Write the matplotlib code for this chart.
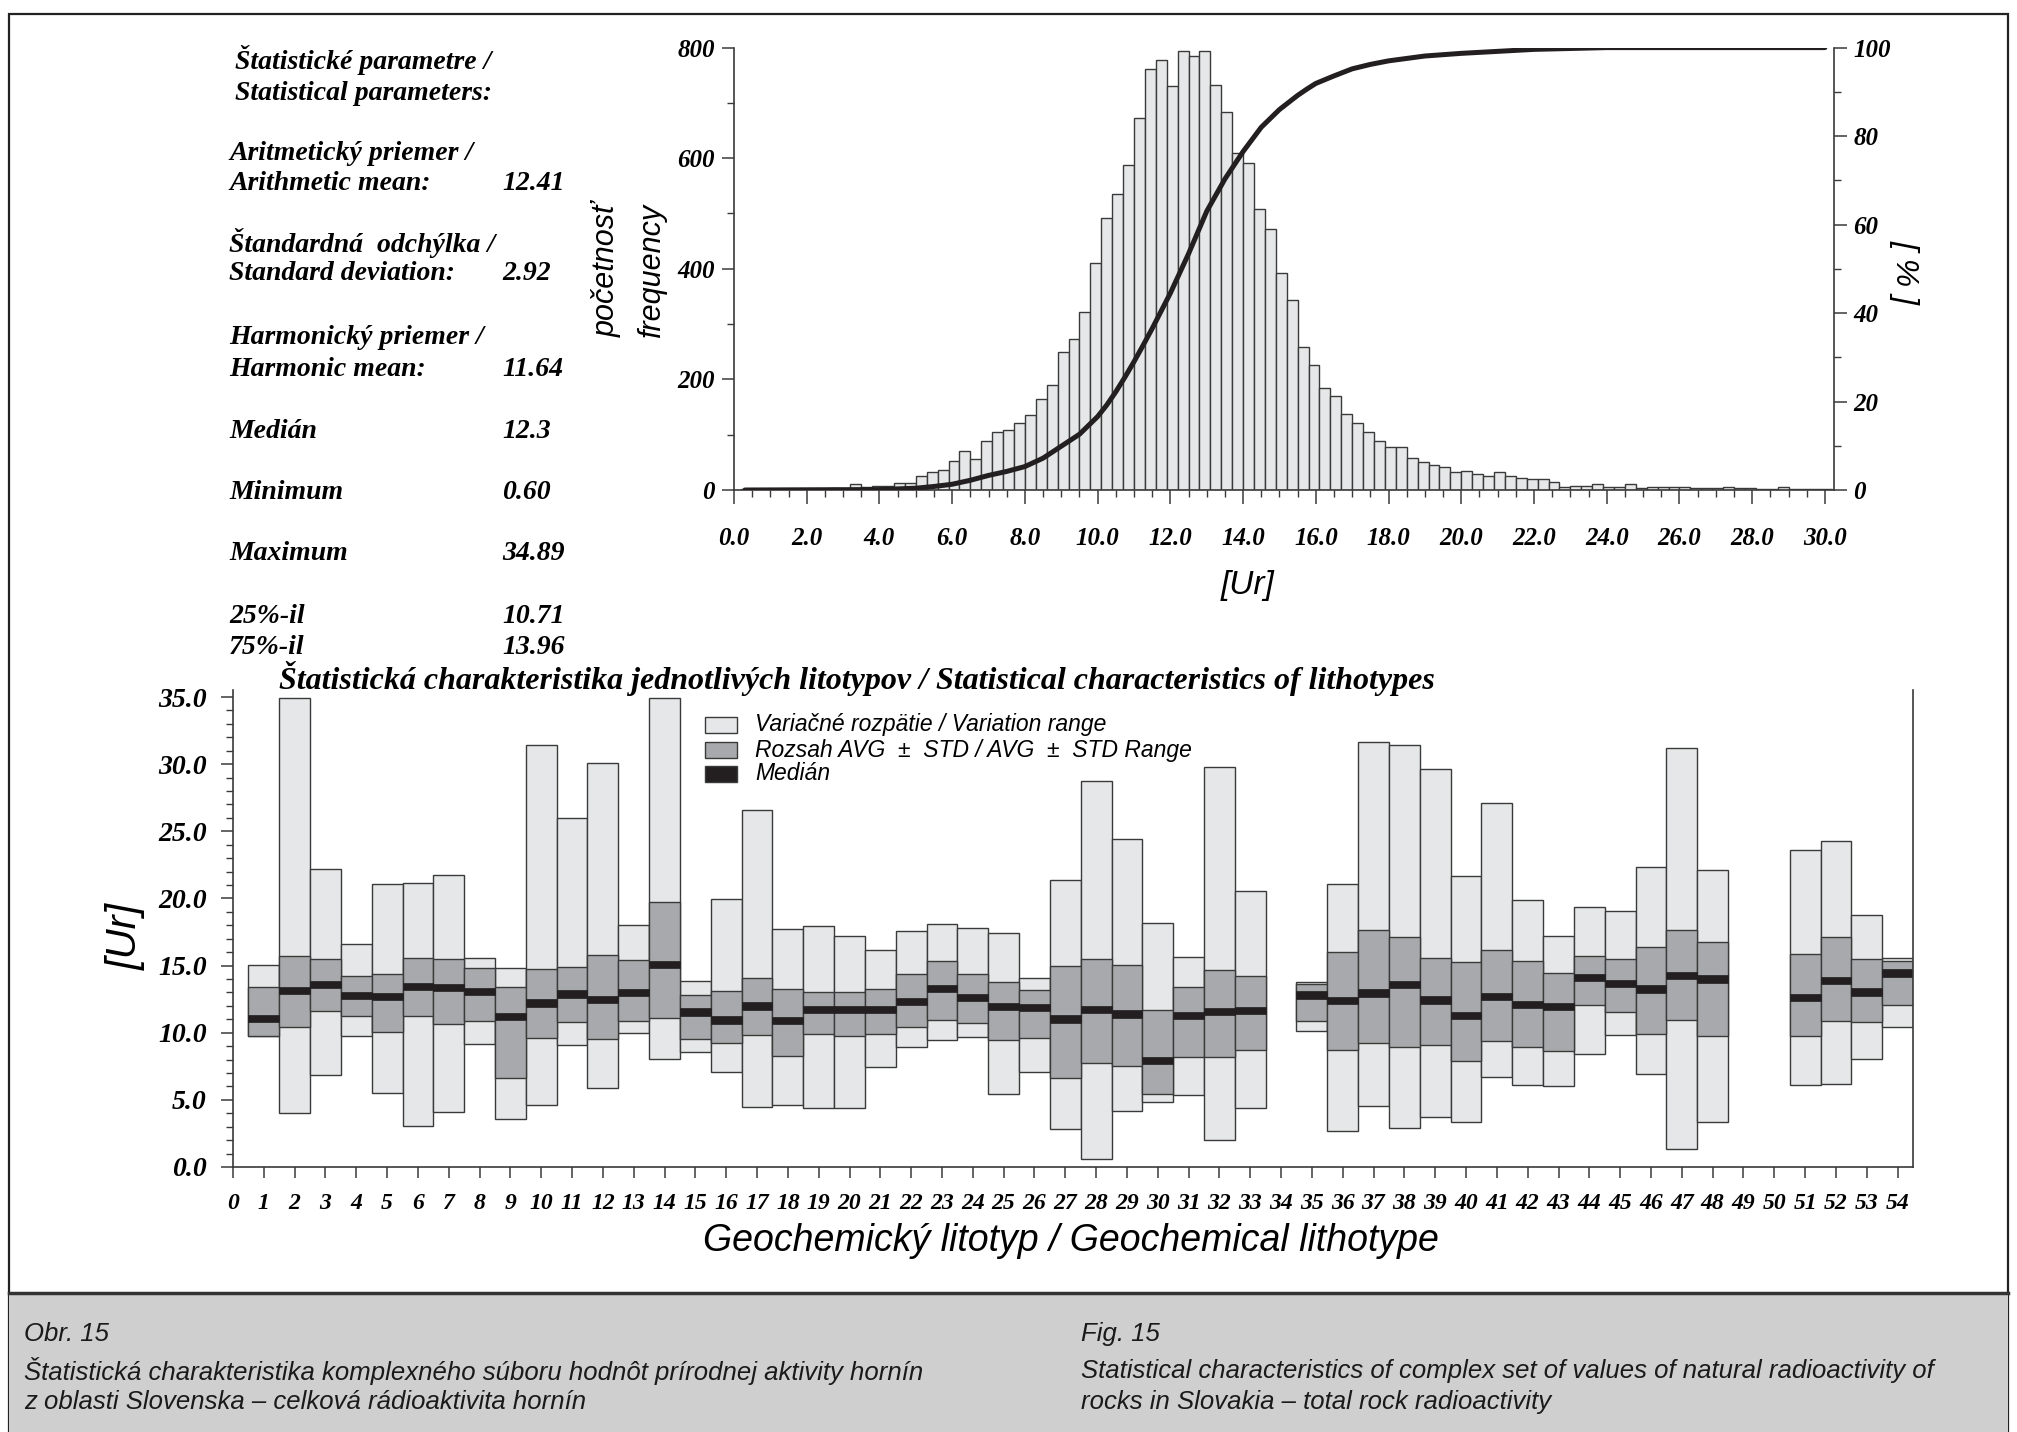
import numpy as np
import matplotlib
matplotlib.use("Agg")
import matplotlib.pyplot as plt
from matplotlib.patches import Rectangle
from matplotlib.font_manager import FontProperties
from matplotlib.ticker import MultipleLocator

# ---- histogram of all values (bins 0.3 wide, first edge 0.2) ----
bin_start = 0.2
bin_width = 0.3
counts = [1, 0, 1, 1, 0, 1, 2, 1,
          3, 2, 10, 5, 8, 8, 13, 13,
          26, 33, 37, 52, 71, 56, 88,
          104, 109, 122, 136, 165, 189, 249, 273, 322, 410, 491, 536, 587, 672,
          761, 778, 730, 793, 785, 793, 732, 684, 609, 591, 508, 472, 393, 344,
          258, 226, 185, 170, 137, 122, 104, 88, 77, 78, 57,
          50, 46, 42, 32, 35, 29, 26, 32, 25, 21, 19, 19, 14, 5, 8, 7, 10, 5,
          5, 10, 4, 5, 6, 5, 6, 3, 3, 3, 5, 4, 4, 1, 1, 5, 1, 1, 2, 2]

# cumulative curve [%]
cum_x = [0.3, 4.0, 5.0, 5.5, 6.0, 6.5, 7.0, 7.5, 8.0, 8.5, 9.0, 9.5, 10.0, 10.25,
         10.5, 10.75, 11.0, 11.25, 11.5, 12.0, 12.5, 13.0, 13.5, 14.0, 14.5, 15.0,
         15.5, 15.75, 16.0, 16.5, 17.0, 17.5, 18.0, 19.0, 20.0, 22.0, 24.0, 30.0]
cum_pct = [0.0, 0.1, 0.4, 0.8, 1.3, 2.2, 3.3, 4.2, 5.3, 7.2, 9.9, 12.6, 16.6, 19.2,
           22.2, 25.5, 29.0, 32.7, 36.5, 44.5, 53.4, 63.0, 70.3, 76.5, 82.0, 86.0,
           89.2, 90.6, 91.9, 93.6, 95.2, 96.2, 97.0, 98.1, 98.7, 99.6, 100.0, 100.0]

hist_xticks = [0.0, 2.0, 4.0, 6.0, 8.0, 10.0, 12.0, 14.0, 16.0, 18.0, 20.0,
               22.0, 24.0, 26.0, 28.0, 30.0]
hist_yticks = [0, 200, 400, 600, 800]
pct_ticks = [0, 20, 40, 60, 80, 100]

stats_rows = [
    ("Aritmetický priemer /", "Arithmetic mean:", "12.41"),
    ("Štandardná  odchýlka /", "Standard deviation:", "2.92"),
    ("Harmonický priemer /", "Harmonic mean:", "11.64"),
    ("Medián", None, "12.3"),
    ("Minimum", None, "0.60"),
    ("Maximum", None, "34.89"),
]
quantiles = [("25%-il", "10.71"), ("75%-il", "13.96")]

# ---- statistics per lithotype ----
lito = list(range(1, 34)) + list(range(35, 49)) + list(range(51, 55))
v_max = [15.06, 34.89, 22.16, 16.64, 21.05, 21.18, 21.71, 15.56, 14.84, 31.43,
         26.02, 30.08, 18.01, 34.89, 13.84, 19.99, 26.55, 17.72, 17.93, 17.17,
         16.16, 17.54, 18.09, 17.80, 17.41, 14.05, 21.39, 28.71, 24.43, 18.17,
         15.61, 29.82, 20.55,
         13.76, 21.10, 31.62, 31.43, 29.64, 21.66, 27.13, 19.86, 17.22, 19.33,
         19.07, 22.32, 31.19, 22.13,
         23.61, 24.25, 18.75, 15.58]
v_min = [9.77, 4.01, 6.84, 9.77, 5.52, 3.04, 4.07, 9.14, 3.54, 4.62,
         9.06, 5.86, 9.96, 8.06, 8.53, 7.05, 4.49, 4.65, 4.41, 4.41,
         7.45, 8.90, 9.43, 9.69, 5.47, 7.05, 2.83, 0.60, 4.20, 4.86,
         5.39, 2.01, 4.38,
         10.12, 2.67, 4.52, 2.91, 3.72, 3.33, 6.68, 6.10, 6.00, 8.43,
         9.80, 6.89, 1.32, 3.33,
         6.07, 6.15, 8.03, 10.41]
avg_hi = [13.37, 15.69, 15.50, 14.24, 14.40, 15.56, 15.50, 14.79, 13.39, 14.71,
          14.92, 15.82, 15.45, 19.73, 12.84, 13.07, 14.10, 13.23, 13.05, 13.05,
          13.26, 14.34, 15.35, 14.37, 13.76, 13.21, 14.98, 15.48, 15.06, 11.67,
          13.42, 14.66, 14.24,
          13.66, 16.01, 17.67, 17.14, 15.53, 15.24, 16.14, 15.35, 14.42, 15.72,
          15.50, 16.38, 17.67, 16.77,
          15.87, 17.12, 15.48, 15.37]
avg_lo = [9.77, 10.43, 11.62, 11.28, 10.04, 11.28, 10.62, 10.88, 6.66, 9.64,
          10.80, 9.51, 10.88, 11.09, 9.56, 9.22, 9.83, 8.27, 9.88, 9.77,
          9.93, 10.41, 10.96, 10.72, 9.43, 9.59, 6.66, 7.77, 7.50, 5.41,
          8.21, 8.16, 8.74,
          10.86, 8.72, 9.27, 8.95, 9.11, 7.90, 9.40, 8.90, 8.64, 12.07,
          11.54, 9.93, 10.94, 9.77,
          9.72, 10.86, 10.83, 12.04]
median = [11.07, 13.15, 13.58, 12.78, 12.70, 13.44, 13.37, 13.05, 11.23, 12.20,
          12.89, 12.47, 13.00, 15.06, 11.54, 10.94, 11.99, 10.91, 11.75, 11.75,
          11.75, 12.33, 13.31, 12.63, 11.96, 11.86, 11.01, 11.75, 11.38, 7.95,
          11.30, 11.60, 11.67,
          12.81, 12.39, 12.97, 13.58, 12.44, 11.30, 12.70, 12.10, 11.94, 14.10,
          13.66, 13.26, 14.24, 14.00,
          12.60, 13.87, 13.02, 14.45]

box_xticks = list(range(0, 55))
box_yticks = [0.0, 5.0, 10.0, 15.0, 20.0, 25.0, 30.0, 35.0]

legend_labels = ["Variačné rozpätie / Variation range",
                 "Rozsah AVG  ±  STD / AVG  ±  STD Range",
                 "Medián"]

W, H = 2017, 1432
fig = plt.figure(figsize=(W / 100, H / 100), dpi=100)


def fx(px):
    return px / W


def fy(py):
    return 1 - py / H


SERIF = "Liberation Serif"
SANS = "Liberation Sans"


def bi(size):
    return FontProperties(family=SERIF, style="italic", weight="bold", size=size)


def si(size):
    return FontProperties(family=SANS, style="italic", size=size)


ink = "#231f20"
edge = "#3a3a3a"
light = "#e6e7e8"
mid = "#a7a9ac"

# frame and caption band
fig.patches.append(Rectangle((fx(9), 0), fx(2008) - fx(9), fy(14), transform=fig.transFigure,
                             fill=False, lw=1.6, ec="#222222"))
fig.patches.append(Rectangle((fx(9), 0), fx(2008) - fx(9), fy(1293), transform=fig.transFigure,
                             fc="#cfcfcf", ec="none"))
fig.add_artist(plt.Line2D([fx(9), fx(2008)], [fy(1293), fy(1293)], transform=fig.transFigure,
                          color="#333333", lw=2.5))

# ---- histogram ----
axh = fig.add_axes([fx(734), fy(490), fx(1834) - fx(734), fy(47.6) - fy(490)])
edges = bin_start + bin_width * np.arange(len(counts))
axh.bar(edges, counts, width=bin_width, align="edge", color=light, edgecolor=edge, linewidth=1.0)
axh.set_xlim(0, 30.25)
axh.set_ylim(0, 800)
for s in ["top", "right"]:
    axh.spines[s].set_visible(False)
for s in ["left", "bottom"]:
    axh.spines[s].set_color(edge)
    axh.spines[s].set_linewidth(1.2)
axh.set_xticks(hist_xticks)
axh.set_xticklabels([f"{t:.1f}" for t in hist_xticks], fontproperties=bi(18))
axh.set_yticks(hist_yticks)
axh.set_yticklabels([str(t) for t in hist_yticks], fontproperties=bi(18))
axh.xaxis.set_minor_locator(MultipleLocator(0.5))
axh.yaxis.set_minor_locator(MultipleLocator(100))
axh.tick_params(axis="x", which="major", length=10, width=1.1, color=edge, pad=17)
axh.tick_params(axis="x", which="minor", length=5, width=1.0, color=edge)
axh.tick_params(axis="y", which="major", length=9, width=1.1, color=edge, pad=5)
axh.tick_params(axis="y", which="minor", length=5, width=1.0, color=edge)

axp = axh.twinx()
axp.plot(cum_x, cum_pct, color=ink, lw=3.6, solid_capstyle="round", solid_joinstyle="round")
axp.set_ylim(0, 100)
for s in ["top", "left", "bottom"]:
    axp.spines[s].set_visible(False)
axp.spines["right"].set_color(edge)
axp.spines["right"].set_linewidth(1.2)
axp.set_yticks(pct_ticks)
axp.set_yticklabels([str(t) for t in pct_ticks], fontproperties=bi(18))
axp.yaxis.set_minor_locator(MultipleLocator(10))
axp.tick_params(axis="y", which="major", length=9, width=1.1, color=edge, pad=5)
axp.tick_params(axis="y", which="minor", length=5, width=1.0, color=edge)

fig.text(fx(607), fy(270), "početnosť", rotation=90, ha="center", va="center", fontproperties=si(22))
fig.text(fx(652), fy(270), "frequency", rotation=90, ha="center", va="center", fontproperties=si(22))
fig.text(fx(1905), fy(272), "[ % ]", rotation=270, ha="center", va="center", fontproperties=si(23))
fig.text(fx(1248), fy(585), "[Ur]", ha="center", va="center", fontproperties=si(24))

# ---- statistics text ----
st = 20
fig.text(fx(235), fy(60), "Štatistické parametre /", ha="left", va="center", fontproperties=bi(st))
fig.text(fx(235), fy(93), "Statistical parameters:", ha="left", va="center", fontproperties=bi(st))
row_y = [153, 243, 338, 431, 493, 554]
for (l1, l2, val), y in zip(stats_rows, row_y):
    fig.text(fx(229), fy(y), l1, ha="left", va="center", fontproperties=bi(st))
    if l2 is None:
        fig.text(fx(502), fy(y), val, ha="left", va="center", fontproperties=bi(st))
    else:
        fig.text(fx(229), fy(y + 31), l2, ha="left", va="center", fontproperties=bi(st))
        fig.text(fx(502), fy(y + 31), val, ha="left", va="center", fontproperties=bi(st))
for (lab, val), y in zip(quantiles, [616, 647]):
    fig.text(fx(229), fy(y), lab, ha="left", va="center", fontproperties=bi(st))
    fig.text(fx(502), fy(y), val, ha="left", va="center", fontproperties=bi(st))

# ---- lithotype chart ----
axb = fig.add_axes([fx(233), fy(1167), fx(1913) - fx(233), fy(690.3) - fy(1167)])
lo_full = np.array(v_min)
axb.bar(lito, np.array(v_max) - lo_full, bottom=lo_full, width=1.0,
        color=light, edgecolor=edge, linewidth=1.0)
axb.bar(lito, np.array(avg_hi) - np.array(avg_lo), bottom=avg_lo, width=1.0,
        color=mid, edgecolor=edge, linewidth=1.0)
axb.bar(lito, 0.55, bottom=np.array(median) - 0.275, width=1.0,
        color=ink, edgecolor=ink, linewidth=0.5)
axb.set_xlim(0, 54.5)
axb.set_ylim(0, 35.5)
axb.spines["top"].set_visible(False)
for s in ["left", "bottom", "right"]:
    axb.spines[s].set_color(edge)
    axb.spines[s].set_linewidth(1.2)
axb.set_xticks(box_xticks)
axb.set_xticklabels([str(t) for t in box_xticks], fontproperties=bi(17))
axb.set_yticks(box_yticks)
axb.set_yticklabels([f"{t:.1f}" for t in box_yticks], fontproperties=bi(20))
axb.yaxis.set_minor_locator(MultipleLocator(1.0))
axb.tick_params(axis="x", which="major", length=8, width=1.1, color=edge, pad=11)
axb.tick_params(axis="y", which="major", length=9, width=1.1, color=edge, pad=10)
axb.tick_params(axis="y", which="minor", length=5, width=1.0, color=edge)

fig.text(fx(279), fy(679),
         "Štatistická charakteristika jednotlivých litotypov / Statistical characteristics of lithotypes",
         ha="left", va="center", fontproperties=bi(23))
fig.text(fx(126), fy(936), "[Ur]", rotation=90, ha="center", va="center", fontproperties=si(30))
fig.text(fx(1071), fy(1241), "Geochemický litotyp / Geochemical lithotype",
         ha="center", va="center", fontproperties=si(27))

# legend
for lab, col, y in zip(legend_labels, [light, mid, ink], [725, 750, 774]):
    fig.patches.append(Rectangle((fx(705), fy(y + 8)), fx(737) - fx(705), fy(y - 8) - fy(y + 8),
                                 transform=fig.transFigure, fc=col, ec=edge, lw=1.0))
    fig.text(fx(755), fy(y), lab, ha="left", va="center", fontproperties=si(16.5))

# caption
cap = "#1a1a1a"
cs = 18.5
fig.text(fx(24), fy(1334), "Obr. 15", ha="left", va="center", fontproperties=si(cs), color=cap)
fig.text(fx(24), fy(1371),
         "Štatistická charakteristika komplexného súboru hodnôt prírodnej aktivity hornín",
         ha="left", va="center", fontproperties=si(cs), color=cap)
fig.text(fx(24), fy(1402), "z oblasti Slovenska – celková rádioaktivita hornín",
         ha="left", va="center", fontproperties=si(cs), color=cap)
fig.text(fx(1081), fy(1334), "Fig. 15", ha="left", va="center", fontproperties=si(cs), color=cap)
fig.text(fx(1081), fy(1371),
         "Statistical characteristics of complex set of values of natural radioactivity of",
         ha="left", va="center", fontproperties=si(cs), color=cap)
fig.text(fx(1081), fy(1402), "rocks in Slovakia – total rock radioactivity",
         ha="left", va="center", fontproperties=si(cs), color=cap)

fig.savefig("out.png", dpi=100)
